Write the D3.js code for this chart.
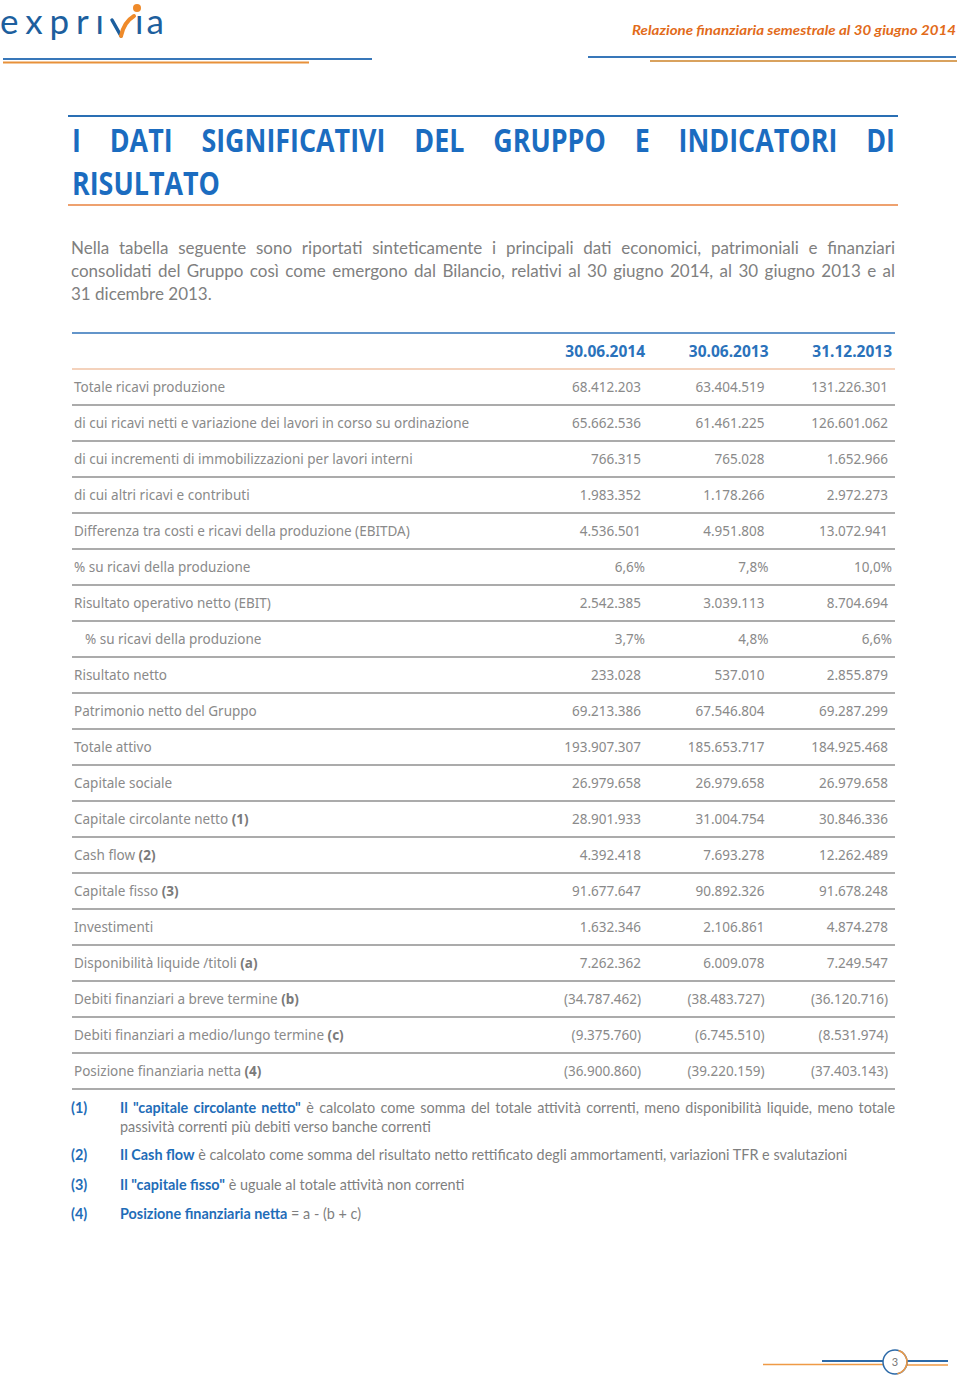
<!DOCTYPE html>
<html>
<head>
<meta charset="utf-8">
<script src="https://cdn.jsdelivr.net/npm/d3@7"></script>
<style>
  body { margin: 0; background: #fff; }
  svg { display: block; }
</style>
</head>
<body>
<svg width="960" height="1380"></svg>
<script>
// ---- data ----
const columns = ["30.06.2014", "30.06.2013", "31.12.2013"];

const labels = [
  "Totale ricavi produzione",
  "di cui ricavi netti e variazione dei lavori in corso su ordinazione",
  "di cui incrementi di immobilizzazioni per lavori interni",
  "di cui altri ricavi e contributi",
  "Differenza tra costi e ricavi della produzione (EBITDA)",
  "% su ricavi della produzione",
  "Risultato operativo netto (EBIT)",
  "% su ricavi della produzione",
  "Risultato netto",
  "Patrimonio netto del Gruppo",
  "Totale attivo",
  "Capitale sociale",
  "Capitale circolante netto (1)",
  "Cash flow (2)",
  "Capitale fisso (3)",
  "Investimenti",
  "Disponibilità liquide /titoli (a)",
  "Debiti finanziari a breve termine (b)",
  "Debiti finanziari a medio/lungo termine (c)",
  "Posizione finanziaria netta (4)"
];
const indentedRows = [7];

const values2014 = ["68.412.203", "65.662.536", "766.315", "1.983.352", "4.536.501", "6,6%",
  "2.542.385", "3,7%", "233.028", "69.213.386", "193.907.307", "26.979.658", "28.901.933",
  "4.392.418", "91.677.647", "1.632.346", "7.262.362", "(34.787.462)", "(9.375.760)", "(36.900.860)"];
const values2013 = ["63.404.519", "61.461.225", "765.028", "1.178.266", "4.951.808", "7,8%",
  "3.039.113", "4,8%", "537.010", "67.546.804", "185.653.717", "26.979.658", "31.004.754",
  "7.693.278", "90.892.326", "2.106.861", "6.009.078", "(38.483.727)", "(6.745.510)", "(39.220.159)"];
const valuesDec2013 = ["131.226.301", "126.601.062", "1.652.966", "2.972.273", "13.072.941", "10,0%",
  "8.704.694", "6,6%", "2.855.879", "69.287.299", "184.925.468", "26.979.658", "30.846.336",
  "12.262.489", "91.678.248", "4.874.278", "7.249.547", "(36.120.716)", "(8.531.974)", "(37.403.143)"];

const noteKeys = ["(1)", "(2)", "(3)", "(4)"];
const noteBold = ["Il \"capitale circolante netto\"", "Il Cash flow", "Il \"capitale fisso\"", "Posizione finanziaria netta"];
const noteText = [
  " è calcolato come somma del totale attività correnti, meno disponibilità liquide, meno totale",
  " è calcolato come somma del risultato netto rettificato degli ammortamenti, variazioni TFR e svalutazioni",
  " è uguale al totale attività non correnti",
  " = a - (b + c)"
];
const noteExtra = "passività correnti più debiti verso banche correnti";

const titleLines = ["I DATI SIGNIFICATIVI DEL GRUPPO E INDICATORI DI", "RISULTATO"];
const introLines = [
  "Nella tabella seguente sono riportati sinteticamente i principali dati economici, patrimoniali e finanziari",
  "consolidati del Gruppo così come emergono dal Bilancio, relativi al 30 giugno 2014, al 30 giugno 2013 e al",
  "31 dicembre 2013."
];

// ---- drawing ----
const svg = d3.select("svg");
const blue = "#1f6db8";
const grey = "#8a8a8a";
const bodyFont = "Lato, 'Open Sans', sans-serif";
const tableFont = "'Noto Sans', 'Open Sans', sans-serif";

svg.append("rect").attr("width", 960).attr("height", 1380).attr("fill", "#fff");

function hline(x1, x2, y, color, w) {
  svg.append("line")
    .attr("x1", x1).attr("x2", x2).attr("y1", y).attr("y2", y)
    .attr("stroke", color).attr("stroke-width", w);
}

// stretch spaces so that a text element fills [x0, x1]
function justify(text, x0, x1) {
  const natural = text.node().getComputedTextLength();
  const spaces = (text.text().match(/ /g) || []).length;
  if (spaces) text.style("word-spacing", ((x1 - x0 - natural) / spaces) + "px");
}

// header
const logo = svg.append("g").attr("font-family", bodyFont).attr("fill", "#1d5f9e");
logo.append("text").attr("x", 0).attr("y", 34)
  .attr("font-size", 35).attr("textLength", 104).attr("lengthAdjust", "spacing")
  .text("exprı");
logo.append("path").attr("d", "M112,20 L121,36").attr("stroke", "#1d5f9e")
  .attr("stroke-width", 3.5).attr("fill", "none").attr("stroke-linecap", "round");
logo.append("path").attr("d", "M121,36 Q124,22 134,16").attr("stroke", "#ef8a2a")
  .attr("stroke-width", 4).attr("fill", "none").attr("stroke-linecap", "round");
logo.append("text").attr("x", 135).attr("y", 34)
  .attr("font-size", 35).attr("textLength", 29).attr("lengthAdjust", "spacing")
  .text("ıa");
logo.append("circle").attr("cx", 137).attr("cy", 8).attr("r", 4).attr("fill", "#ef8a2a");

hline(3, 372, 59, "#3877b9", 2);
hline(3, 309, 62.5, "#e8913a", 2);
hline(588, 956, 57, "#3877b9", 2);
hline(650, 957, 61, "#d9a25e", 2);

svg.append("text")
  .attr("x", 956).attr("y", 35).attr("text-anchor", "end")
  .attr("font-family", bodyFont).attr("font-size", 14).attr("font-weight", 700)
  .attr("font-style", "italic").attr("fill", "#e26b1a")
  .attr("textLength", 324).attr("lengthAdjust", "spacingAndGlyphs")
  .text("Relazione finanziaria semestrale al 30 giugno 2014");

// title
hline(68, 898, 116, "#2a6fb4", 2);
hline(68, 898, 205, "#e8823f", 1.5);

const titleStyle = t => t.attr("font-family", "'Open Sans', sans-serif").attr("font-size", 32)
  .attr("font-weight", 700).attr("fill", "#1b6cc0");

const probe = titleStyle(svg.append("text")).text("RISULTATO");
const squeeze = 148 / probe.node().getComputedTextLength();
probe.remove();

function titleWord(word, x0, y0) {
  const t = titleStyle(svg.append("text"))
    .attr("transform", `translate(${x0},${y0}) scale(${squeeze},1)`)
    .text(word);
  return t.node().getComputedTextLength() * squeeze;
}

const titleWords = titleLines[0].split(" ");
const wordWidths = titleWords.map(w => {
  const t = titleStyle(svg.append("text")).text(w);
  const wd = t.node().getComputedTextLength() * squeeze;
  t.remove();
  return wd;
});
const gap = (895 - 72 - d3.sum(wordWidths)) / (titleWords.length - 1);
let cursor = 72;
titleWords.forEach((w, i) => {
  titleWord(w, cursor, 152);
  cursor += wordWidths[i] + gap;
});
titleWord(titleLines[1], 72, 195);

// intro paragraph
introLines.forEach((line, i) => {
  const t = svg.append("text").attr("x", 71).attr("y", 254 + i * 23)
    .attr("font-family", bodyFont).attr("font-size", 17).attr("fill", "#7f7f7f")
    .text(line);
  if (i < introLines.length - 1) justify(t, 71, 895);
});

// table
const rows = d3.range(labels.length);
const y = d3.scaleBand().domain(rows).range([369, 369 + 36 * rows.length]);
const x = d3.scalePoint().domain(columns).range([641, 888]);
const series = [values2014, values2013, valuesDec2013];

hline(72, 895, 333, "#2f72b8", 1.5);
hline(72, 895, 369, "#eaa67a", 1.2);

svg.append("g").selectAll("text")
  .data(columns)
  .join("text")
  .attr("x", d => x(d) + 4)
  .attr("y", 357)
  .attr("text-anchor", "end")
  .attr("font-family", tableFont).attr("font-size", 15.5).attr("font-weight", 700)
  .attr("fill", "#2a72bb")
  .text(d => d);

const row = svg.append("g").selectAll("g")
  .data(rows)
  .join("g")
  .attr("transform", d => `translate(0,${y(d)})`);

row.append("line")
  .attr("x1", 72).attr("x2", 895)
  .attr("y1", y.bandwidth()).attr("y2", y.bandwidth())
  .attr("stroke", "#8f8f8f").attr("stroke-width", 1.6);

const label = row.append("text")
  .attr("x", d => indentedRows.includes(d) ? 85 : 74)
  .attr("y", 23)
  .attr("font-family", tableFont).attr("font-size", 13.5).attr("fill", grey);

label.each(function(d) {
  const m = labels[d].match(/^(.*)(\((?:\d|[abc])\))$/);
  const t = d3.select(this);
  if (m) {
    t.append("tspan").text(m[1]);
    t.append("tspan").attr("font-weight", 700).attr("fill", "#7a7a7a").text(m[2]);
  } else {
    t.text(labels[d]);
  }
});

columns.forEach((c, ci) => {
  row.append("text")
    .attr("x", d => x(c) + (series[ci][d].endsWith("%") ? 4 : 0))
    .attr("y", 23)
    .attr("text-anchor", "end")
    .attr("font-family", tableFont).attr("font-size", 13.5).attr("fill", grey)
    .text(d => series[ci][d]);
});

// footnotes
const noteY = [1113, 1160, 1190, 1219];
noteKeys.forEach((k, i) => {
  svg.append("text").attr("x", 71).attr("y", noteY[i])
    .attr("font-family", bodyFont).attr("font-size", 14.4).attr("font-weight", 700)
    .attr("fill", blue).text(k);
  const t = svg.append("text").attr("x", 120).attr("y", noteY[i])
    .attr("font-family", bodyFont).attr("font-size", 14.4).attr("fill", "#7f7f7f");
  t.append("tspan").attr("font-weight", 700).attr("fill", blue).text(noteBold[i]);
  t.append("tspan").text(noteText[i]);
  if (i === 0) justify(t, 120, 895);
});
svg.append("text").attr("x", 120).attr("y", 1132)
  .attr("font-family", bodyFont).attr("font-size", 14.4).attr("fill", "#7f7f7f")
  .text(noteExtra);

// page number
hline(763, 883, 1364.5, "#ef9a45", 1.5);
hline(822, 883, 1361, "#2d6aa8", 2);
hline(907, 948, 1361, "#2d6aa8", 2);
hline(907, 948, 1365, "#ef9a45", 1.5);
svg.append("circle").attr("cx", 895).attr("cy", 1362).attr("r", 12)
  .attr("fill", "#fff").attr("stroke", "#2d6aa8").attr("stroke-width", 1.5);
svg.append("path")
  .attr("d", d3.arc()({ innerRadius: 12, outerRadius: 12, startAngle: 0.3, endAngle: Math.PI - 0.2 }))
  .attr("transform", "translate(895,1362)")
  .attr("stroke", "#ef9a45").attr("stroke-width", 1.5).attr("fill", "none");
svg.append("text").attr("x", 895).attr("y", 1366).attr("text-anchor", "middle")
  .attr("font-family", bodyFont).attr("font-size", 11).attr("fill", "#777").text("3");
</script>
</body>
</html>
